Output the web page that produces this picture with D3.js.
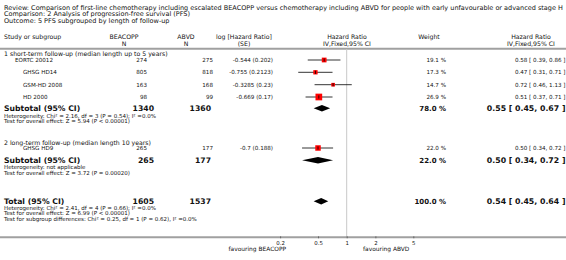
<!DOCTYPE html>
<html><head><meta charset="utf-8">
<script src="https://cdn.jsdelivr.net/npm/d3@7/dist/d3.min.js"></script>
<style>
body{margin:0;background:#fff}
svg{display:block;font-family:"DejaVu Sans",Verdana,sans-serif}
</style>
</head><body>
<svg id="c" width="566" height="260"></svg>
<script>
// ---------------- data ----------------
const titleLines = [
  "Review:  Comparison of first-line chemotherapy including escalated BEACOPP versus chemotherapy including ABVD for people with early unfavourable or advanced stage H",
  "Comparison:  2 Analysis of progression-free survival (PFS)",
  "Outcome:  5 PFS subgrouped by length of follow-up"
];
const subgroups = ["1 short-term follow-up (median length up to 5 years)", "2 long-term follow-up (median length 10 years)"];
const studies   = ["EORTC 20012", "GHSG HD14", "GSM-HD 2008", "HD 2000", "GHSG HD9"];
const nBEACOPP  = [274, 805, 163, 98, 265];
const nABVD     = [275, 818, 168, 99, 177];
const logHR     = ["-0.544", "-0.755", "-0.3285", "-0.669", "-0.7"];
const seLogHR   = ["0.202", "0.2123", "0.23", "0.17", "0.188"];
const weights   = [19.1, 17.3, 14.7, 26.9, 22.0];
const hr        = [0.58, 0.47, 0.72, 0.51, 0.50];
const hrLow     = [0.39, 0.31, 0.46, 0.37, 0.34];
const hrHigh    = [0.86, 0.71, 1.13, 0.71, 0.72];

const subNB     = [1340, 265];
const subNA     = [1360, 177];
const subWeight = [78.0, 22.0];
const subHR     = [0.55, 0.50];
const subLow    = [0.45, 0.34];
const subHigh   = [0.67, 0.72];
const subHet    = ["Heterogeneity: Chi\u00b2 = 2.16, df = 3 (P = 0.54); I\u00b2 =0.0%", "Heterogeneity: not applicable"];
const subTest   = ["Test for overall effect: Z = 5.94 (P < 0.00001)", "Test for overall effect: Z = 3.72 (P = 0.00020)"];

const totNB = 1605, totNA = 1537, totWeight = 100.0, totHR = 0.54, totLow = 0.45, totHigh = 0.64;
const totNotes = [
  "Heterogeneity: Chi\u00b2 = 2.41, df = 4 (P = 0.66); I\u00b2 =0.0%",
  "Test for overall effect: Z = 6.99 (P < 0.00001)",
  "Test for subgroup differences: Chi\u00b2 = 0.25, df = 1 (P = 0.62), I\u00b2 =0.0%"
];
const tickValues = [0.2, 0.5, 1, 2, 5];
const favourLeft = "favouring BEACOPP", favourRight = "favouring ABVD";

// ---------------- layout ----------------
const svg = d3.select("#c");
const W = 566;
const x = d3.scaleLog().domain([0.2, 5]).range([280.1, 413.3]);
const size = d3.scaleLinear().domain([0, 26.9]).range([0, 6.7]);
const fmt2 = d3.format(".2f");
const fmtW = d3.format(".1f");

const studyY = [60, 72.3, 84.7, 97, 148];
const studyX = [15, 23, 23, 23, 23];
const groupHeadY = [54, 142.7];
const subY = [108.3, 160.3];
const subNoteY = [[116, 121.5], [167.4, 172.7]];
const totY = 201.3, totNoteY = [208, 213.3, 218.6];
const axisY = 237.3;

const col = {nB: 147, nA: 213, lhr: 273, w: 446, ci: 565.5, nBb: 154, nAb: 211};

function txt(xp, yc, s, fs, anchor, weight) {
  return svg.append("text").attr("x", xp).attr("y", yc + fs * 0.36)
    .attr("font-size", fs).attr("text-anchor", anchor || "start")
    .attr("font-weight", weight || "normal").attr("fill", "#111").text(s);
}
function ciText(h, l, u) { return fmt2(h) + " [ " + fmt2(l) + ", " + fmt2(u) + " ]"; }

// titles
const titleYs = [7.8, 14, 20.2];
titleLines.forEach((s, i) => txt(4, titleYs[i], s, 6.5));

// headers
const hY1 = 37, hY2 = 43.5, hfs = 6.2;
txt(4, hY1, "Study or subgroup", hfs);
txt(124, hY1, "BEACOPP", hfs, "middle"); txt(124, hY2, "N", hfs, "middle");
txt(186, hY1, "ABVD", hfs, "middle"); txt(186, hY2, "N", hfs, "middle");
txt(244, hY1, "log [Hazard Ratio]", hfs, "middle"); txt(244, hY2, "(SE)", hfs, "middle");
txt(347, hY1, "Hazard Ratio", hfs, "middle"); txt(347, hY2, "IV,Fixed,95% CI", hfs, "middle");
txt(429, hY1, "Weight", hfs, "middle");
txt(531, hY1, "Hazard Ratio", hfs, "middle"); txt(531, hY2, "IV,Fixed,95% CI", hfs, "middle");

// header rule and axis rule
svg.append("line").attr("x1", 0).attr("x2", W).attr("y1", 48.8).attr("y2", 48.8)
  .attr("stroke", "#a0a0a0").attr("stroke-width", 2);
// null line
svg.append("line").attr("x1", x(1)).attr("x2", x(1)).attr("y1", 49).attr("y2", axisY)
  .attr("stroke", "#c8c8c8").attr("stroke-width", 1);
svg.append("line").attr("x1", 0).attr("x2", W).attr("y1", axisY).attr("y2", axisY)
  .attr("stroke", "#a0a0a0").attr("stroke-width", 2);

// subgroup headings
subgroups.forEach((s, g) => txt(4, groupHeadY[g], s, 6.2));

// studies
studies.forEach((s, i) => {
  const y = studyY[i], fs = 5.6;
  txt(studyX[i], y, s, fs);
  txt(col.nB, y, nBEACOPP[i], fs, "end");
  txt(col.nA, y, nABVD[i], fs, "end");
  txt(col.lhr, y, logHR[i] + " (" + seLogHR[i] + ")", fs, "end");
  txt(col.w, y, fmtW(weights[i]) + " %", fs, "end");
  txt(col.ci, y, ciText(hr[i], hrLow[i], hrHigh[i]), fs, "end");
  svg.append("line").attr("x1", x(hrLow[i])).attr("x2", x(hrHigh[i]))
    .attr("y1", y).attr("y2", y).attr("stroke", "#000").attr("stroke-width", 0.8);
  const s2 = size(weights[i]);
  svg.append("rect").attr("x", x(hr[i]) - s2 / 2).attr("y", y - s2 / 2)
    .attr("width", s2).attr("height", s2).attr("fill", "#ff0000");
  svg.append("line").attr("x1", x(hr[i])).attr("x2", x(hr[i]))
    .attr("y1", y - 1.6).attr("y2", y + 1.6).attr("stroke", "#000").attr("stroke-width", 0.8);
});

function diamond(y, h, l, u, hh) {
  const pts = [[x(l), y], [x(h), y - hh], [x(u), y], [x(h), y + hh]];
  svg.append("path").attr("d", d3.line()(pts) + "Z").attr("fill", "#000");
}

// subtotals
subgroups.forEach((s, g) => {
  const y = subY[g], fs = 7.7;
  txt(4, y, "Subtotal (95% CI)", fs, "start", "bold");
  txt(col.nBb, y, subNB[g], fs, "end", "bold");
  txt(col.nAb, y, subNA[g], fs, "end", "bold");
  txt(col.w, y, fmtW(subWeight[g]) + " %", 7, "end", "bold");
  txt(col.ci, y, ciText(subHR[g], subLow[g], subHigh[g]), 7.8, "end", "bold");
  diamond(y, subHR[g], subLow[g], subHigh[g], 3.3);
  txt(4, subNoteY[g][0], subHet[g], 5.5);
  txt(4, subNoteY[g][1], subTest[g], 5.5);
});

// total
txt(4, totY, "Total (95% CI)", 7.7, "start", "bold");
txt(col.nBb, totY, totNB, 7.7, "end", "bold");
txt(col.nAb, totY, totNA, 7.7, "end", "bold");
txt(col.w, totY, fmtW(totWeight) + " %", 7, "end", "bold");
txt(col.ci, totY, ciText(totHR, totLow, totHigh), 7.8, "end", "bold");
diamond(totY, totHR, totLow, totHigh, 3.3);
totNotes.forEach((s, i) => txt(4, totNoteY[i], s, 5.5));

// axis
const ax = d3.axisBottom(x).tickValues(tickValues).tickFormat(d => String(d))
  .tickSizeInner(-2).tickSizeOuter(0).tickPadding(2.5);
const axg = svg.append("g").attr("transform", `translate(0,${axisY + 1})`).call(ax);
axg.select(".domain").remove();
axg.selectAll(".tick line").attr("stroke", "#555").attr("stroke-width", 0.8);
axg.selectAll(".tick text").attr("font-size", 5.4).attr("font-family", "DejaVu Sans").attr("fill", "#111");

txt(286, 248.5, favourLeft, 5.9, "end");
txt(363, 248.5, favourRight, 5.9, "start");
</script>
</body></html>
